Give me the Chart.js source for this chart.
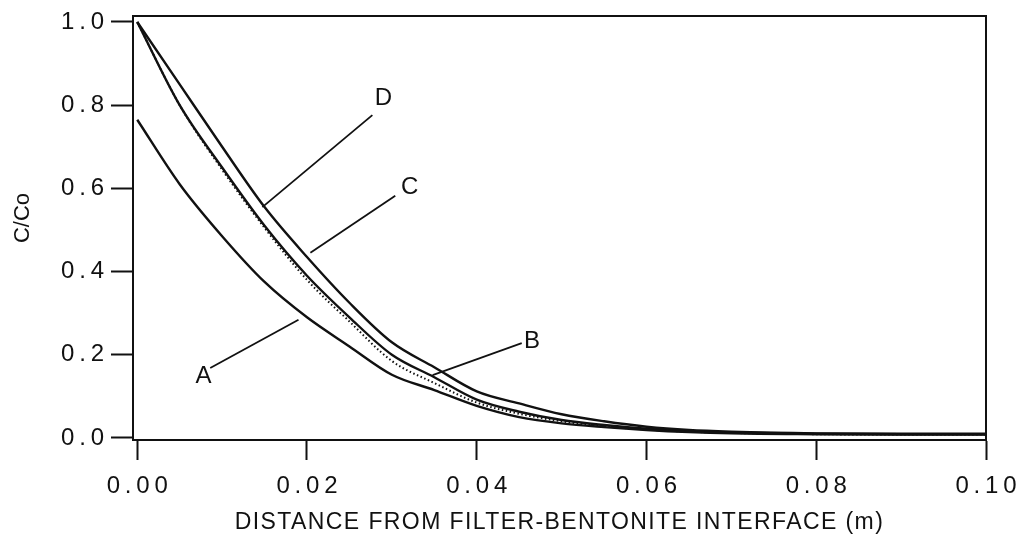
<!DOCTYPE html>
<html>
<head>
<meta charset="utf-8">
<script src="https://cdn.jsdelivr.net/npm/chart.js@4.4.1/dist/chart.umd.min.js"></script>
<style>
    body { margin: 0; background: #fff; }
    #wrap { width: 1016px; height: 540px; }
</style>
</head>
<body>
<div id="wrap"><canvas id="profileChart" width="1016" height="540"></canvas></div>
<script>
// distance from interface (m) and C/Co for each curve
var distance = [0, 0.005, 0.01, 0.015, 0.02, 0.025, 0.03, 0.035, 0.04, 0.045, 0.05, 0.055, 0.06, 0.065, 0.07, 0.08, 0.09, 0.10];
var curveA = [0.765, 0.61, 0.485, 0.375, 0.29, 0.22, 0.152, 0.115, 0.077, 0.05, 0.035, 0.026, 0.019, 0.014, 0.011, 0.009, 0.008, 0.008];
var curveB = [1.0, 0.80, 0.645, 0.505, 0.38, 0.28, 0.185, 0.132, 0.085, 0.058, 0.04, 0.028, 0.02, 0.015, 0.012, 0.009, 0.008, 0.008];
var curveC = [1.0, 0.80, 0.65, 0.51, 0.39, 0.29, 0.2, 0.146, 0.092, 0.063, 0.043, 0.031, 0.022, 0.016, 0.013, 0.01, 0.009, 0.009];
var curveD = [1.0, 0.85, 0.70, 0.555, 0.435, 0.325, 0.23, 0.17, 0.112, 0.083, 0.057, 0.04, 0.027, 0.019, 0.015, 0.011, 0.01, 0.01];

var xTicks = [0, 0.02, 0.04, 0.06, 0.08, 0.10];
var yTicks = [0, 0.2, 0.4, 0.6, 0.8, 1.0];

var xTitle = 'DISTANCE FROM FILTER-BENTONITE INTERFACE (m)';
var yTitle = 'C/Co';

// curve labels with their leader lines, in data units
var labelNames = ['A', 'B', 'C', 'D'];
var labelAt = [[0.0078, 0.149], [0.0465, 0.231], [0.0321, 0.603], [0.029, 0.817]];
var leaderFrom = [[0.0086, 0.168], [0.0453, 0.228], [0.0304, 0.582], [0.0277, 0.776]];
var leaderTo = [[0.019, 0.284], [0.0348, 0.151], [0.0204, 0.445], [0.01474, 0.555]];

var FONT = "'Liberation Sans', Arial, Helvetica, sans-serif";

function toPoints(values) {
    let pts = new Array(values.length);
    for (var i = 0; i < values.length; i++)
        pts[i] = { x: distance[i], y: values[i] };
    return pts;
}

// spread the digits like the old typeset labels
function spaced(str) {
    return str.split('').join('\u2009');
}

function makeSet(label, values, dash) {
    return {
        label: label,
        data: toPoints(values),
        borderColor: '#111',
        borderWidth: dash ? 2 : 2.4,
        borderDash: dash || [],
        pointRadius: 0,
        fill: false,
        cubicInterpolationMode: 'monotone'
    };
}

var framePlugin = {
    id: 'frame',
    afterDatasetsDraw: function (chart) {
        let ctx = chart.ctx;
        let a = chart.chartArea;
        let xs = chart.scales.x, ys = chart.scales.y;
        ctx.save();
        ctx.strokeStyle = '#111';
        ctx.lineWidth = 2;
        ctx.strokeRect(a.left, a.top, a.right - a.left, a.bottom - a.top);

        ctx.lineWidth = 1.8;
        ctx.fillStyle = '#111';
        ctx.font = '24px ' + FONT;
        ctx.textAlign = 'center';
        ctx.textBaseline = 'middle';
        for (var i = 0; i < labelNames.length; i++) {
            ctx.beginPath();
            ctx.moveTo(xs.getPixelForValue(leaderFrom[i][0]), ys.getPixelForValue(leaderFrom[i][1]));
            ctx.lineTo(xs.getPixelForValue(leaderTo[i][0]), ys.getPixelForValue(leaderTo[i][1]));
            ctx.stroke();
            ctx.fillText(labelNames[i], xs.getPixelForValue(labelAt[i][0]), ys.getPixelForValue(labelAt[i][1]));
        }
        ctx.restore();
    },
    afterDraw: function (chart) {
        let ctx = chart.ctx;
        let a = chart.chartArea;
        ctx.save();
        ctx.fillStyle = '#111';
        ctx.textAlign = 'center';
        ctx.textBaseline = 'middle';
        ctx.font = '23px ' + FONT;
        ctx.letterSpacing = '1.4px';
        ctx.fillText(xTitle, (a.left + a.right) / 2, 523);

        ctx.letterSpacing = '0px';
        ctx.font = '22px ' + FONT;
        ctx.translate(23, 218);
        ctx.rotate(-Math.PI / 2);
        ctx.fillText(yTitle, 0, 0);
        ctx.restore();
    }
};

var ctx = document.getElementById('profileChart').getContext('2d');
var profileChart = new Chart(ctx, {
    type: 'line',
    data: {
        datasets: [
            makeSet('A', curveA),
            makeSet('B', curveB, [1.5, 2.5]),
            makeSet('C', curveC),
            makeSet('D', curveD)
        ]
    },
    options: {
        responsive: false,
        animation: false,
        layout: {
            padding: { top: 16, right: 30, left: 0, bottom: 0 }
        },
        plugins: {
            legend: { display: false },
            tooltip: { enabled: false }
        },
        scales: {
            x: {
                type: 'linear',
                min: -0.0005,
                max: 0.1,
                afterBuildTicks: function (scale) {
                    scale.ticks = xTicks.map(function (v) { return { value: v }; });
                },
                afterFit: function (scale) {
                    scale.height = 100;
                    scale.paddingLeft = 0;
                    scale.paddingRight = 0;
                },
                grid: {
                    drawOnChartArea: false,
                    drawTicks: true,
                    tickLength: 20,
                    tickWidth: 2,
                    tickColor: '#111'
                },
                border: { display: true, color: '#111', width: 2 },
                ticks: {
                    color: '#111',
                    padding: 12,
                    maxRotation: 0,
                    font: { family: FONT, size: 24 },
                    callback: function (v) { return spaced(v.toFixed(2)); }
                }
            },
            y: {
                type: 'linear',
                min: -0.005,
                max: 1.0144,
                afterBuildTicks: function (scale) {
                    scale.ticks = yTicks.map(function (v) { return { value: v }; });
                },
                afterFit: function (scale) {
                    scale.width = 133;
                    scale.paddingTop = 0;
                    scale.paddingBottom = 0;
                },
                grid: {
                    drawOnChartArea: false,
                    drawTicks: true,
                    tickLength: 22,
                    tickWidth: 2,
                    tickColor: '#111'
                },
                border: { display: true, color: '#111', width: 2 },
                ticks: {
                    color: '#111',
                    padding: 7,
                    font: { family: FONT, size: 24 },
                    callback: function (v) { return spaced(v.toFixed(1)); }
                }
            }
        }
    },
    plugins: [framePlugin]
});
</script>
</body>
</html>
